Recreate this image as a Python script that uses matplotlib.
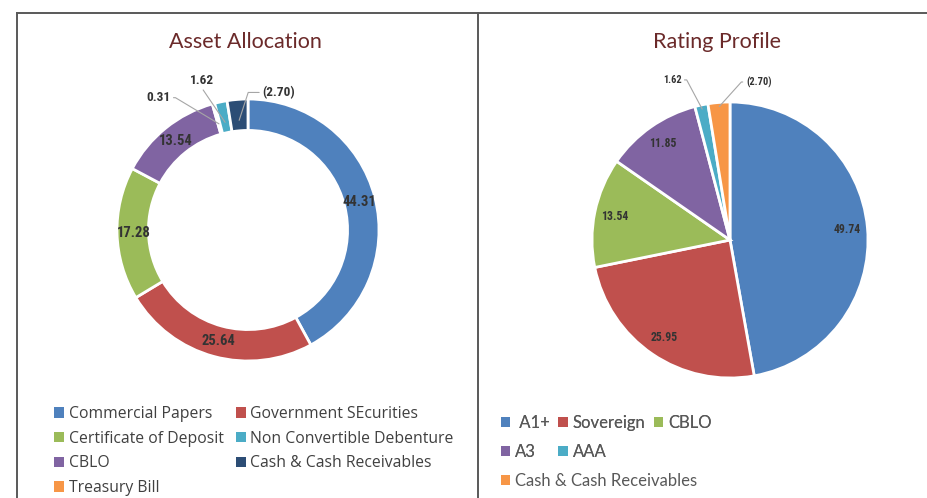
import numpy as np
import matplotlib
matplotlib.use('Agg')
import matplotlib.pyplot as plt
from matplotlib.patches import Patch
from matplotlib.lines import Line2D

# Asset allocation (donut), drawn clockwise from the top
asset_names = ['Commercial Papers', 'Government SEcurities', 'Certificate of Deposit',
               'CBLO', 'Treasury Bill', 'Non Convertible Debenture',
               'Cash & Cash Receivables']
asset_values = [44.31, 25.64, 17.28, 13.54, 0.31, 1.62, 2.70]
asset_text = ['44.31', '25.64', '17.28', '13.54', '0.31', '1.62', '(2.70)']
asset_colors = ['#4F81BD', '#C0504D', '#9BBB59', '#8064A2', '#F79646', '#4BACC6', '#2C4D75']
asset_legend_order = [0, 1, 2, 5, 3, 6, 4]

# Rating profile (pie)
rating_names = [' A1+', 'Sovereign', 'CBLO', 'A3', 'AAA', 'Cash & Cash Receivables']
rating_values = [49.74, 25.95, 13.54, 11.85, 1.62, 2.70]
rating_text = ['49.74', '25.95', '13.54', '11.85', '1.62', '(2.70)']
rating_colors = ['#4F81BD', '#C0504D', '#9BBB59', '#8064A2', '#4BACC6', '#F79646']

W, H = 928, 498
fig = plt.figure(figsize=(W / 100, H / 100), dpi=100)

lab_font = dict(family=['Liberation Sans Narrow', 'Roboto Condensed', 'DejaVu Sans'],
                stretch='condensed', weight='bold', color='#333333')
title_col = '#6B2A2A'
lead_col = '#A6A6A6'


def px_axes(cx, cy, r):
    return fig.add_axes([(cx - r) / W, (H - cy - r) / H, 2 * r / W, 2 * r / H])


def wedge_point(w, r):
    a = np.deg2rad((w.theta1 + w.theta2) / 2)
    return r * np.cos(a), r * np.sin(a)


# frame lines
for x0, y0, x1, y1 in [(17, 13, 17, 498), (17, 13, 928, 13), (478, 13, 478, 498)]:
    fig.add_artist(Line2D([x0 / W, x1 / W], [1 - y0 / H, 1 - y1 / H],
                          color='#595959', lw=1.4, transform=fig.transFigure))

# ---- left: donut
ax1 = px_axes(248, 230, 131)
wedges1, _ = ax1.pie(asset_values, colors=asset_colors, startangle=90, counterclock=False,
                     radius=1, wedgeprops=dict(width=0.24, edgecolor='white', linewidth=2))
ax1.set_xlim(-1, 1)
ax1.set_ylim(-1, 1)
ax1.set_aspect('equal')

for i, w in enumerate(wedges1[:4]):
    x, y = wedge_point(w, 0.875)
    ax1.text(x, y, asset_text[i], ha='center', va='center', fontsize=10.5, **lab_font)

small1 = {4: ((-0.59, 1.01), 'right', 'angle,angleA=0,angleB=-31'),
          5: ((-0.35, 1.14), 'center', 'arc3,rad=0'),
          6: ((0.11, 1.05), 'left', 'angle,angleA=0,angleB=72')}
for i, (pos, ha, cs) in small1.items():
    xy = wedge_point(wedges1[i], 0.84)
    rel = {'right': (1.1, 0.5), 'left': (-0.1, 0.5), 'center': (0.5, -0.1)}[ha]
    ax1.annotate(asset_text[i], xy=xy, xytext=pos, ha=ha, va='center', fontsize=9.5,
                 annotation_clip=False, **lab_font,
                 arrowprops=dict(arrowstyle='-', color=lead_col, lw=0.8, relpos=rel,
                                 shrinkA=0, shrinkB=0, connectionstyle=cs))

fig.text(245 / W, 1 - 42 / H, 'Asset Allocation', ha='center', va='center',
         fontsize=15.5, family='Lato', color=title_col)

h1 = [Patch(facecolor=asset_colors[i], edgecolor='none') for i in asset_legend_order]
l1 = [asset_names[i] for i in asset_legend_order]
h1 = [h1[k] for k in [0, 2, 4, 6, 1, 3, 5]]
l1 = [l1[k] for k in [0, 2, 4, 6, 1, 3, 5]]
fig.legend(h1, l1, ncol=2, loc='upper left', bbox_to_anchor=(54 / W, 1 - 406 / H),
           frameon=False, prop=dict(family='Open Sans', size=11.3), labelcolor='#404040',
           handlelength=0.65, handleheight=0.65, handletextpad=0.3, columnspacing=0.75,
           labelspacing=0.55, borderaxespad=0, borderpad=0)

# ---- right: pie
ax2 = px_axes(730, 240, 138)
wedges2, _ = ax2.pie(rating_values, colors=rating_colors, startangle=90, counterclock=False,
                     radius=1, wedgeprops=dict(edgecolor='white', linewidth=2))
ax2.set_xlim(-1, 1)
ax2.set_ylim(-1, 1)
ax2.set_aspect('equal')

for i, w in enumerate(wedges2[:4]):
    x, y = wedge_point(w, 0.85)
    ax2.text(x, y, rating_text[i], ha='center', va='center', fontsize=8.5, **lab_font)

small2 = {4: ((-0.35, 1.16), 'right', 'angle,angleA=0,angleB=-62'),
          5: ((0.12, 1.145), 'left', 'angle,angleA=0,angleB=48')}
for i, (pos, ha, cs) in small2.items():
    xy = wedge_point(wedges2[i], 0.97)
    rel = {'right': (1.15, 0.5), 'left': (-0.15, 0.5)}[ha]
    ax2.annotate(rating_text[i], xy=xy, xytext=pos, ha=ha, va='center', fontsize=7.5,
                 annotation_clip=False, **lab_font,
                 arrowprops=dict(arrowstyle='-', color=lead_col, lw=0.8, relpos=rel,
                                 shrinkA=0, shrinkB=0, connectionstyle=cs))

fig.text(717 / W, 1 - 42 / H, 'Rating Profile', ha='center', va='center',
         fontsize=15.5, family='Lato', color=title_col)

# right legend: two rows on a grid, last entry on its own row
blank = Patch(facecolor='none', edgecolor='none')
h2 = [Patch(facecolor=c, edgecolor='none') for c in rating_colors]
leg_a = fig.legend([h2[0], h2[3], h2[1], h2[4], h2[2], blank],
                   [rating_names[0], rating_names[3], rating_names[1], rating_names[4],
                    rating_names[2], ''],
                   ncol=3, loc='upper left', bbox_to_anchor=(501 / W, 1 - 415 / H),
                   frameon=False, prop=dict(family='Lato', size=12), labelcolor='#595959',
                   handlelength=0.55, handleheight=0.55, handletextpad=0.3, columnspacing=0.5,
                   labelspacing=0.75, borderaxespad=0, borderpad=0)
fig.add_artist(leg_a)
fig.legend([h2[5]], [rating_names[5]], loc='upper left', bbox_to_anchor=(501 / W, 1 - 473 / H),
           frameon=False, prop=dict(family='Lato', size=12), labelcolor='#595959',
           handlelength=0.55, handleheight=0.55, handletextpad=0.3,
           borderaxespad=0, borderpad=0)

fig.savefig('out.png', dpi=100)
